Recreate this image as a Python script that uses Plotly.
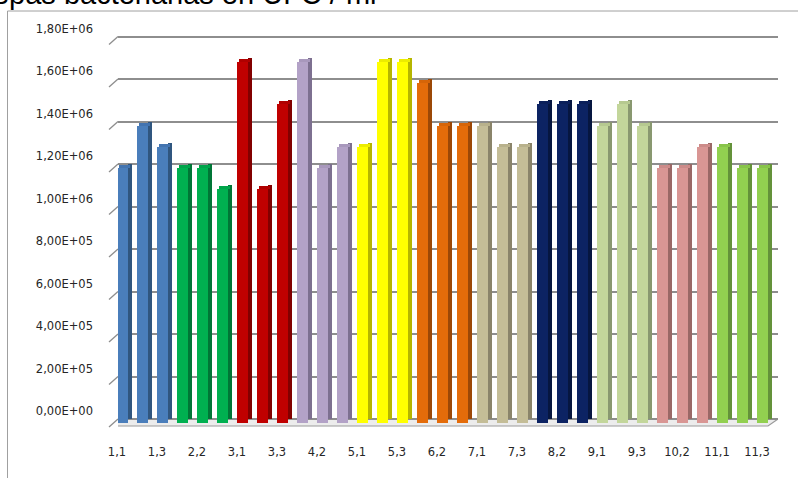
import plotly.graph_objects as go

# ---- data -------------------------------------------------------------
categories = [
    "1,1", "1,2", "1,3", "2,1", "2,2", "2,3", "3,1", "3,2", "3,3",
    "4,1", "4,2", "4,3", "5,1", "5,2", "5,3", "6,1", "6,2", "6,3",
    "7,1", "7,2", "7,3", "8,1", "8,2", "8,3", "9,1", "9,2", "9,3",
    "10,1", "10,2", "10,3", "11,1", "11,2", "11,3",
]
ufc_ml = [
    1.2e6, 1.4e6, 1.3e6, 1.2e6, 1.2e6, 1.1e6, 1.7e6, 1.1e6, 1.5e6,
    1.7e6, 1.2e6, 1.3e6, 1.3e6, 1.7e6, 1.7e6, 1.6e6, 1.4e6, 1.4e6,
    1.4e6, 1.3e6, 1.3e6, 1.5e6, 1.5e6, 1.5e6, 1.4e6, 1.5e6, 1.4e6,
    1.2e6, 1.2e6, 1.3e6, 1.3e6, 1.2e6, 1.2e6,
]
y_tick_values = [0, 2e5, 4e5, 6e5, 8e5, 1.0e6, 1.2e6, 1.4e6, 1.6e6, 1.8e6]
y_tick_labels = ["0,00E+00", "2,00E+05", "4,00E+05", "6,00E+05", "8,00E+05",
                 "1,00E+06", "1,20E+06", "1,40E+06", "1,60E+06", "1,80E+06"]
title_text = "Cepas bacterianas en UFC / ml"

# ---- style --------------------------------------------------------------
front_colors = ["#4a7ebb", "#00b050", "#c00000", "#b3a2c7", "#ffff00", "#e46c0a",
                "#c4bd97", "#0c2363", "#c3d69b", "#d99694", "#92d050"]
side_colors = ["#30567f", "#007636", "#820000", "#7d7090", "#b5b500", "#9c4807",
               "#8a846a", "#061640", "#899870", "#9a6866", "#64923a"]
top_colors = ["#4374b0", "#00a44a", "#b00000", "#a898bc", "#ecec00", "#d66508",
              "#b8b18c", "#0a1f5a", "#b6c990", "#cc8b89", "#88c44a"]

W, H = 798, 478
L, R, T, B = 118, 20, 19, 49
PW, PH = W - L - R, H - T - B
PX = 2e5 / 42.5          # data units per pixel on the value axis
DEPTH = 4                # bar depth in px
CAP = 3                  # visible height of the bar top in px

n = len(categories)
idx = list(range(n))
grp = [i // 3 for i in idx]

def px_x(p):
    return (p - L) / PW

def px_y(p):
    return (H - B - p) / PH

fig = go.Figure()

# right side faces (lifted by the depth)
fig.add_trace(go.Bar(
    x=idx, y=ufc_ml, base=[DEPTH * PX] * n, offset=0, width=0.2,
    marker=dict(color=[side_colors[g] for g in grp], line=dict(width=0)),
    yaxis="y2", hoverinfo="skip", showlegend=False))
# top caps
fig.add_trace(go.Bar(
    x=idx, y=[CAP * PX] * n, base=ufc_ml, offset=-0.45, width=0.55,
    marker=dict(color=[top_colors[g] for g in grp], line=dict(width=0)),
    yaxis="y2", hoverinfo="skip", showlegend=False))
# front faces
fig.add_trace(go.Bar(
    x=idx, y=ufc_ml, offset=-0.55, width=0.55,
    marker=dict(color=[front_colors[g] for g in grp], line=dict(width=0)),
    yaxis="y2", showlegend=False,
    hovertemplate="%{customdata}: %{y:.2e}<extra></extra>",
    customdata=categories))

shapes = []
# floor slab under the bars
shapes.append(dict(
    type="path", layer="below",
    xref="x", xsizemode="pixel", xanchor=-0.5,
    yref="y", ysizemode="pixel", yanchor=0,
    path="M 0,0 L 660,0 L 650,-7 L -8,-7 Z",
    fillcolor="#ececec", line=dict(color="#9a9a9a", width=1.2)))
# diagonal wall ticks at each gridline
for v in y_tick_values:
    shapes.append(dict(
        type="line", layer="below",
        xref="paper", xsizemode="pixel", xanchor=0, x0=0, x1=-9,
        yref="y", ysizemode="pixel", yanchor=v, y0=0, y1=-8,
        line=dict(color="#8e8e8e", width=1.3)))
# chart frame (top and left edges)
shapes.append(dict(type="line", xref="paper", yref="paper",
                   x0=px_x(7.5), x1=px_x(W + 5), y0=px_y(11), y1=px_y(11),
                   line=dict(color="#a0a0a0", width=1)))
shapes.append(dict(type="line", xref="paper", yref="paper",
                   x0=px_x(7.5), x1=px_x(7.5), y0=px_y(11), y1=px_y(H + 5),
                   line=dict(color="#a0a0a0", width=1)))

fig.update_layout(
    width=W, height=H,
    margin=dict(l=L, r=R, t=T, b=B, pad=0),
    paper_bgcolor="white", plot_bgcolor="white",
    barmode="overlay", bargap=0,
    shapes=shapes,
    font=dict(family="DejaVu Sans", size=11.5, color="#262626"),
    xaxis=dict(
        range=[-0.5, n - 0.5], showgrid=False, zeroline=False, showline=False,
        tickmode="array", tickvals=idx[::2], ticktext=categories[::2],
        ticks="", ticklabelshift=-11, ticklabelstandoff=14,
        tickfont=dict(family="DejaVu Sans", size=11.5, color="#262626")),
    yaxis=dict(
        range=[-10 * PX, 400 * PX], showgrid=True, gridcolor="#8e8e8e", gridwidth=1.5,
        zeroline=False, showline=False, ticks="",
        tickmode="array", tickvals=y_tick_values, ticktext=y_tick_labels,
        ticklabelshift=-8, ticklabelstandoff=24,
        tickfont=dict(family="DejaVu Sans", size=11.5, color="#262626")),
    yaxis2=dict(
        range=[-6 * PX, 404 * PX], overlaying="y", showgrid=False, zeroline=False,
        showline=False, showticklabels=False, ticks=""),
    annotations=[dict(
        text=title_text, xref="paper", yref="paper",
        x=px_x(-30), y=px_y(12), xanchor="left", yanchor="bottom",
        showarrow=False, font=dict(family="Liberation Sans", size=29, color="black"))],
)

fig.write_html("out.html")
